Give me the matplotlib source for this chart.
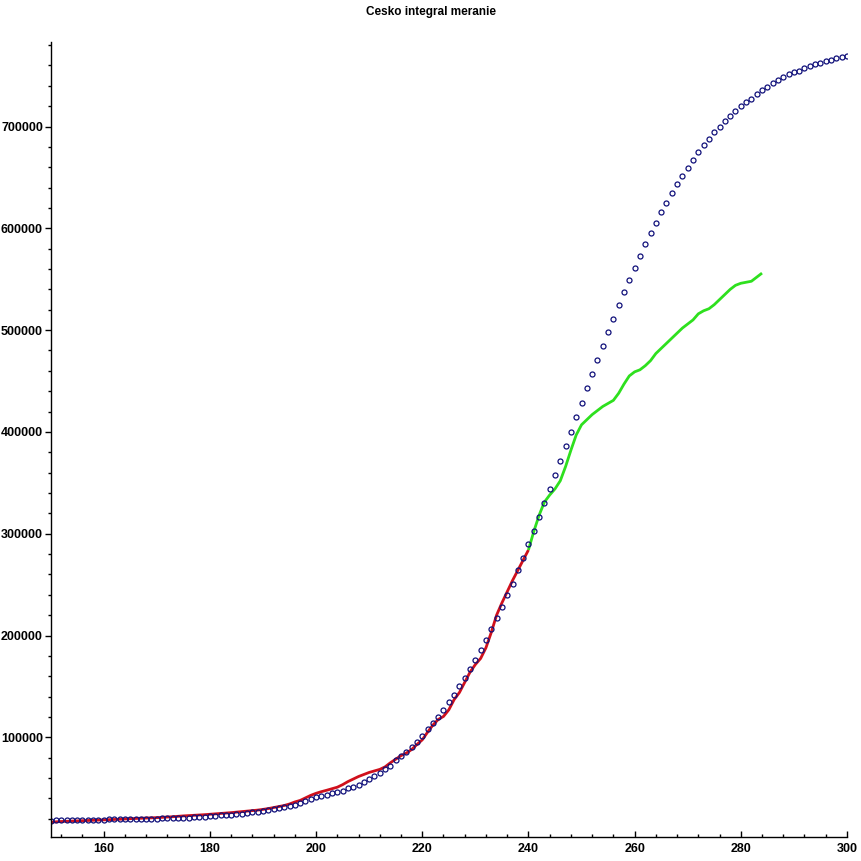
import numpy as np
import matplotlib
matplotlib.use("Agg")
from matplotlib import pyplot as plt
from matplotlib.ticker import MultipleLocator

plt.rcParams["font.family"] = ["Liberation Sans", "DejaVu Sans"]

# model (blue circles), one per day 150..300
model_days = list(range(150, 301))
model_vals = [
    18200, 18300, 18400, 18500, 18600, 18700, 18800, 18900, 19000, 19100,
    19200, 19300, 19400, 19500, 19600, 19700, 19800, 19900, 20000, 20100,
    20200, 20300, 20400, 20500, 20700, 20900, 21100, 21400, 21700, 22000,
    22400, 22800, 23200, 23600, 24000, 24500, 25000, 25600, 26200, 26900,
    27600, 28400, 29200, 30200, 31300, 32500, 34000, 35800, 37800, 39700,
    41100, 42400, 43400, 45100, 46700, 47700, 50000, 51600, 53200, 56500,
    59100, 62100, 65300, 68900, 71900, 77800, 81700, 85900, 90800, 95700,
    101600, 107900, 113800, 119700, 126900, 134400, 141600, 150100, 158000, 166800,
    176000, 185500, 195300, 206100, 216900, 227700, 239500, 250900, 264000, 275800,
    289900, 302600, 316400, 329800, 343600, 357300, 371100, 385800, 399600, 414300,
    428100, 442800, 456500, 470600, 484000, 497800, 510500, 524300, 537100, 548800,
    560600, 572400, 584500, 595000, 604800, 615600, 624500, 634300, 643100, 651000,
    658800, 666700, 674500, 681400, 687300, 694200, 699100, 705000, 709900, 714800,
    719700, 723600, 727500, 731500, 735400, 738400, 742300, 745300, 748200, 751100,
    753100, 755000, 757000, 759000, 761000, 762000, 763900, 764900, 766900, 767900,
    768800,
]

# measured data used for fit (red), days 150..240
fit_days = list(range(150, 241))
fit_vals = [
    16600, 17000, 17300, 17500, 17700, 17900, 18100, 18300, 18500, 18700,
    18900, 19100, 19300, 19500, 19800, 20100, 20300, 20500, 20700, 20900,
    21100, 21400, 21700, 22000, 22400, 22800, 23100, 23400, 23700, 24000,
    24400, 24800, 25200, 25600, 26000, 26500, 27000, 27500, 28000, 28500,
    29200, 30000, 31000, 32000, 33000, 34500, 36500, 38000, 40500, 43000,
    45000, 46600, 48000, 49500, 51000, 53500, 56500, 59000, 61500, 63500,
    65500, 67000, 68500, 71000, 75000, 78500, 82000, 84500, 88000, 93000,
    97500, 105000, 112000, 117500, 120500, 127000, 137000, 144000, 154000, 164000,
    171500, 177500, 188000, 203000, 220000, 232000, 243000, 254000, 264000, 274000,
    284000,
]

# later measured data (green), days 240..284
new_days = list(range(240, 285))
new_vals = [
    284000, 302000, 318000, 331000, 338000, 344000, 352000, 366000, 382000, 397000,
    407000, 412000, 417000, 421000, 425000, 428000, 431000, 438000, 447000, 455000,
    459000, 461000, 465000, 470000, 477000, 482000, 487000, 492000, 497000, 502000,
    506000, 510000, 516000, 519000, 521000, 525000, 530000, 535000, 540000, 544000,
    546000, 547000, 548000, 552000, 556000,
]

fig = plt.figure(figsize=(8.61, 8.61), dpi=100)
ax = fig.add_axes([0.0588, 0.0279, 0.9249, 0.9233])

ax.plot(fit_days, fit_vals, color="#d0101c", linewidth=2.0, solid_capstyle="butt")
ax.plot(new_days, new_vals, color="#2ee01e", linewidth=2.0, solid_capstyle="butt")
ax.plot(model_days, model_vals, linestyle="none", marker="o", markersize=3.6,
        markerfacecolor="none", markeredgecolor="#10107a", markeredgewidth=0.9)

ax.set_xlim(150, 300)
ax.set_ylim(2100, 783000)

ax.spines["top"].set_visible(False)
ax.spines["right"].set_visible(False)
ax.spines["left"].set_linewidth(1.0)
ax.spines["bottom"].set_linewidth(1.0)

ax.xaxis.set_major_locator(MultipleLocator(20))
ax.xaxis.set_minor_locator(MultipleLocator(4))
ax.yaxis.set_major_locator(MultipleLocator(100000))
ax.yaxis.set_minor_locator(MultipleLocator(20000))

ax.tick_params(axis="x", which="major", direction="in", length=4, width=1, pad=4)
ax.tick_params(axis="x", which="minor", direction="in", length=2.5, width=1)
ax.tick_params(axis="y", which="major", direction="out", length=4, width=1, pad=1.5)
ax.tick_params(axis="y", which="minor", direction="out", length=2, width=1)

ax.set_yticks([100000, 200000, 300000, 400000, 500000, 600000, 700000])
ax.set_yticklabels(["100000", "200000", "300000", "400000", "500000", "600000", "700000"])
for lab in ax.get_xticklabels() + ax.get_yticklabels():
    lab.set_fontweight("bold")
    lab.set_fontsize(9)

fig.text(0.5, 0.9925, "Cesko integral meranie", ha="center", va="top",
         fontsize=8.5, fontweight="bold")

fig.savefig("out.png", dpi=100)
